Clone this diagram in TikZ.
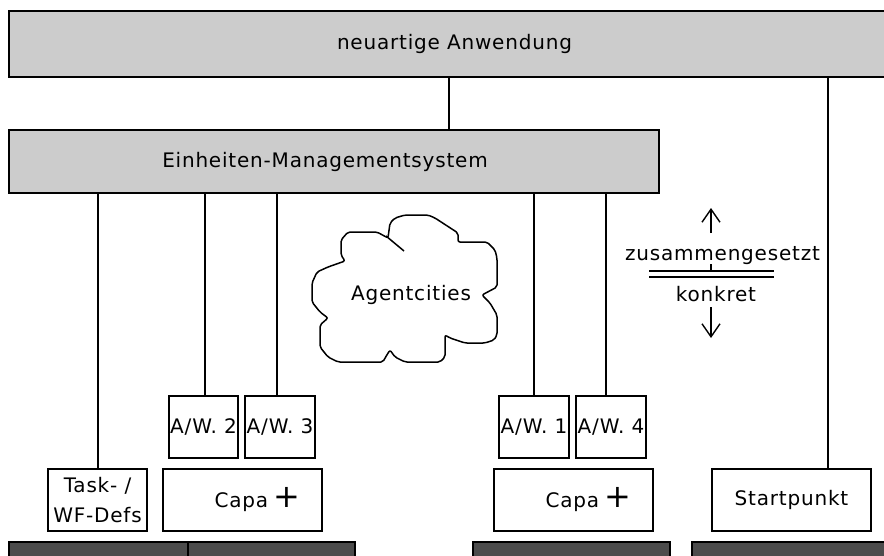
\documentclass[tikz,border=0pt]{standalone}
\usepackage{fontspec}
\setmainfont[LetterSpace=4]{DejaVu Sans}
\usetikzlibrary{arrows.meta}

\definecolor{boxgray}{HTML}{CCCCCC}
\definecolor{basegray}{HTML}{4C4C4C}

\begin{document}
\begin{tikzpicture}[x=1pt,y=-1pt,
  every node/.style={font=\fontsize{20}{24}\selectfont},
  frame/.style={draw, line width=1.5pt, inner sep=0pt},
  graybox/.style={frame, fill=boxgray},
  whitebox/.style={frame, fill=white},
  basebox/.style={frame, fill=basegray},
  link/.style={line width=1.4pt},
  cloudline/.style={line width=1.5pt, rounded corners=2pt, line join=round},
  tip/.style={-{Straight Barb[length=13pt,width=18pt]}}]

% canvas
\path[fill=white, use as bounding box] (0,0) rectangle (884,555);

% layers
\node[graybox, minimum width=891, minimum height=66] (app) at (454.5,44) {neuartige Anwendung};
\node[graybox, minimum width=650, minimum height=63] (ems) at (334,161.5) {Einheiten-Managementsystem\hspace*{18pt}};

% agent wrappers
\node[whitebox, minimum width=69, minimum height=62] (aw2) at (203.5,427) {\makebox[0pt]{A/W. 2}};
\node[whitebox, minimum width=70, minimum height=62] (aw3) at (280,427) {\makebox[0pt]{A/W. 3}};
\node[whitebox, minimum width=70, minimum height=62] (aw1) at (534,427) {\makebox[0pt]{A/W. 1}};
\node[whitebox, minimum width=70, minimum height=62] (aw4) at (611,427) {\makebox[0pt]{A/W. 4}};

% lower row
\node[whitebox, minimum width=99, minimum height=62, align=center,
      font=\fontsize{20}{30}\selectfont] (task) at (97.5,500) {Task- /\\WF-Defs};
\node[whitebox, minimum width=159, minimum height=62] (capaL) at (242.5,500)
  {\hspace*{30pt}Capa\;{\fontsize{32}{32}\selectfont +}};
\node[whitebox, minimum width=159, minimum height=62] (capaR) at (573.5,500)
  {\hspace*{30pt}Capa\;{\fontsize{32}{32}\selectfont +}};
\node[whitebox, minimum width=159, minimum height=62] (start) at (791.5,500) {Startpunkt};

% base blocks
\node[basebox, minimum width=179, minimum height=33] (base1) at (98.5,558.5) {};
\node[basebox, minimum width=167, minimum height=33] (base2) at (271.5,558.5) {};
\node[basebox, minimum width=197, minimum height=33] (base3) at (571.5,558.5) {};
\node[basebox, minimum width=208, minimum height=33] (base4) at (796,558.5) {};

% connectors
\draw[link] (449,0 |- app.south) -- (449,0 |- ems.north);
\draw[link] (828,0 |- app.south) -- (828,0 |- start.north);
\draw[link] (98,0 |- ems.south) -- (98,0 |- task.north);
\draw[link] (205,0 |- ems.south) -- (205,0 |- aw2.north);
\draw[link] (277,0 |- ems.south) -- (277,0 |- aw3.north);
\draw[link] (534,0 |- ems.south) -- (534,0 |- aw1.north);
\draw[link] (606,0 |- ems.south) -- (606,0 |- aw4.north);

% cloud
\draw[cloudline] (338,362) -- (328,357) -- (320,347) -- (320,325) -- (328,318)
  -- (320,312) -- (312,302) -- (312,283) -- (317,272) -- (328,267) -- (345,261)
  -- (341,255) -- (341,240) -- (348,232) -- (377,232) -- (388,238) -- (390,223)
  -- (395,218) -- (405,215) -- (428,215) -- (435,218) -- (458,233) -- (458,242)
  -- (487,242) -- (495,250) -- (497,258) -- (497,287) -- (482,295) -- (490,303)
  -- (497,315) -- (497,335) -- (494,340) -- (485,343) -- (465,343) -- (450,338)
  -- (445,335) -- (445,357) -- (440,362) -- (405,362) -- (395,357) -- (390,350)
  -- (385,358) -- (383,362) -- cycle;
\draw[cloudline] (386,236) -- (404,251);
\node (cloud) at (411,295) {Agentcities};

% abstraction legend
\coordinate (upfoot) at (711,233);
\coordinate (uptip) at (711,208);
\coordinate (downfoot) at (711,307);
\coordinate (downtip) at (711,338);
\draw[link, tip] (upfoot) -- (uptip);
\draw[link, tip] (downfoot) -- (downtip);
\node[anchor=base] (composed) at (722.5,260) {zusammengesetzt};
\node[anchor=base] (concrete) at (716,301) {konkret};
\draw[link] (649,271) -- (774,271);
\draw[link] (649,277) -- (774,277);
\draw[link] (711,264) -- (711,271);
\end{tikzpicture}
\end{document}
